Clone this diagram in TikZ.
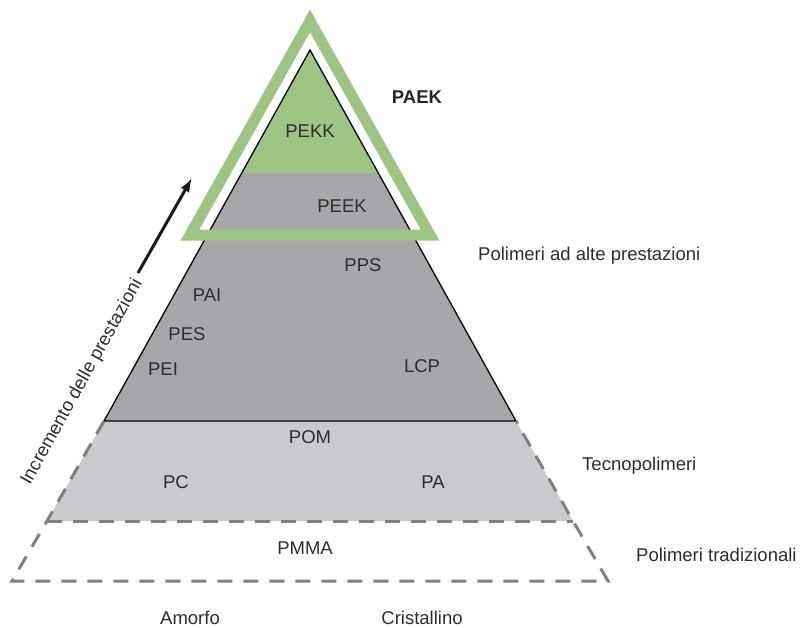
\documentclass[tikz,border=0pt]{standalone}
\usepackage{fontspec}
\setmainfont{Liberation Sans}
\usepackage{tikz}
\usetikzlibrary{arrows.meta}

\definecolor{paekgreen}{RGB}{157,196,132}
\definecolor{highgray}{RGB}{166,167,171}
\definecolor{techgray}{RGB}{201,202,205}
\definecolor{edgegray}{RGB}{128,128,128}
\definecolor{labelgray}{RGB}{45,45,45}

\begin{document}
\begin{tikzpicture}[
  x=1pt,
  y=-1pt,
  polylabel/.style={
    anchor=base,
    inner sep=0pt,
    text=labelgray,
    font=\fontsize{18.5}{22}\selectfont
  },
  tierlabel/.style={
    polylabel,
    anchor=base west
  },
  dashedge/.style={
    draw=edgegray,
    line width=3pt,
    dash pattern=on 15pt off 11pt
  }
]
\useasboundingbox (0,0) rectangle (800,627);
\fill[fill=techgray] (104,421) -- (516,421) -- (573,521) -- (47,521) -- cycle;
\fill[fill=highgray] (242,173) -- (378,173) -- (516,421) -- (104,421) -- cycle;
\fill[fill=paekgreen] (310,50) -- (378,173) -- (242,173) -- cycle;
\draw[black, line width=1.3pt, line join=miter] (104,421) -- (310,50) -- (516,421) -- cycle;
\draw[dashedge] (104,421) -- (47,521) -- (12,581) -- (608,581) -- (573,521) -- (516,421);
\draw[dashedge] (47,521) -- (573,521);
\draw[paekgreen, line width=11pt, line join=miter] (310,21) -- (430,235) -- (190,235) -- cycle;

\coordinate (arrowfoot) at (138,273);
\coordinate (arrowhead) at (192,178);
\draw[-{Latex[length=14pt,width=10pt]}, line width=3pt, black!90] (arrowfoot) -- (arrowhead);
\node[polylabel, anchor=center, rotate=61] (incremento) at (82,382) {Incremento delle prestazioni};

\node[polylabel, font=\fontsize{18.5}{22}\selectfont\bfseries, text=black!85] (paek) at (417,103.5) {PAEK};
\node[polylabel] (pekk) at (310,137.5) {PEKK};
\node[polylabel] (peek) at (342,212.5) {PEEK};
\node[polylabel] (pps) at (363,271.5) {PPS};
\node[polylabel] (pai) at (207,301.5) {PAI};
\node[polylabel] (pes) at (187,340.5) {PES};
\node[polylabel] (pei) at (163,375.5) {PEI};
\node[polylabel] (lcp) at (422,372.5) {LCP};
\node[polylabel] (pom) at (310,443.5) {POM};
\node[polylabel] (pc) at (176,488.5) {PC};
\node[polylabel] (pa) at (433,488.5) {PA};
\node[polylabel] (pmma) at (305,554.5) {PMMA};
\node[polylabel] (amorfo) at (190,624) {Amorfo};
\node[polylabel] (cristallino) at (422,624) {Cristallino};

\node[tierlabel] (alte) at (478,260.5) {Polimeri ad alte prestazioni};
\node[tierlabel] (tecno) at (582,470.5) {Tecnopolimeri};
\node[tierlabel] (tradiz) at (636,561.5) {Polimeri tradizionali};
\end{tikzpicture}
\end{document}
